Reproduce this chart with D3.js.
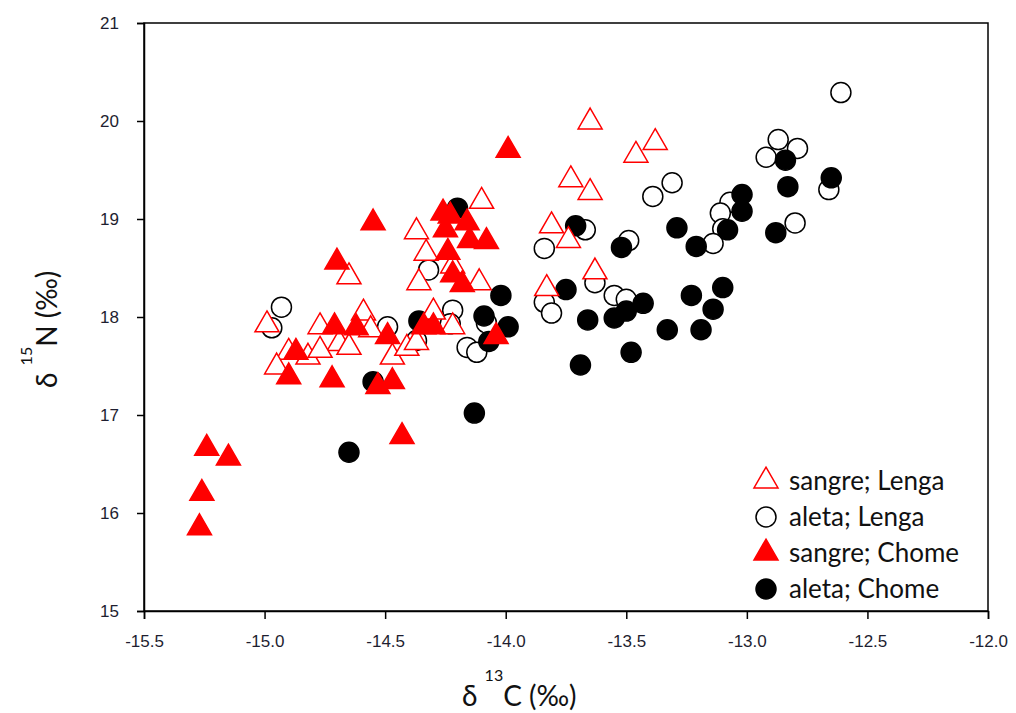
<!DOCTYPE html>
<html>
<head>
<meta charset="utf-8">
<script src="https://d3js.org/d3.v7.min.js"></script>
<style>
  body { margin: 0; background: #fff; }
  svg { display: block; }
  .tick text { font-family: "Liberation Sans", Arial, sans-serif; font-size: 17px; fill: #1e1e30; }
  .title { font-family: Lato, "Open Sans", sans-serif; font-size: 28px; fill: #111; }
  .legend text { font-family: Lato, "Open Sans", sans-serif; font-size: 26px; fill: #111; }
</style>
</head>
<body>
<svg id="chart" width="1016" height="713"></svg>
<script>
// δ13C / δ15N values (‰) per tissue and site
const sangreLenga = [
  [-13.65, 19.99], [-13.38, 19.78], [-13.46, 19.65], [-13.73, 19.40], [-13.65, 19.27],
  [-14.10, 19.18], [-13.81, 18.93], [-14.37, 18.87], [-13.74, 18.78], [-14.33, 18.65],
  [-13.63, 18.46], [-13.83, 18.29], [-14.65, 18.41], [-14.36, 18.35], [-14.22, 18.52],
  [-14.11, 18.35], [-14.59, 18.04], [-14.30, 18.05], [-14.99, 17.92], [-14.77, 17.90],
  [-14.56, 17.87], [-14.22, 17.90], [-14.69, 17.73], [-14.65, 17.69], [-14.90, 17.64],
  [-14.82, 17.59], [-14.77, 17.66], [-14.95, 17.49], [-14.47, 17.59], [-14.41, 17.68],
  [-14.37, 17.74]
];
const aletaLenga = [
  [-12.61, 20.29], [-12.87, 19.81], [-12.79, 19.72], [-12.92, 19.63], [-12.66, 19.30],
  [-13.31, 19.37], [-13.39, 19.23], [-13.07, 19.17], [-13.11, 19.06], [-13.10, 18.90],
  [-13.14, 18.75], [-12.80, 18.96], [-13.49, 18.78], [-13.67, 18.89], [-13.84, 18.70],
  [-13.63, 18.35], [-13.55, 18.22], [-13.50, 18.18], [-13.84, 18.15], [-13.81, 18.04],
  [-14.22, 18.07], [-14.08, 17.94], [-14.16, 17.69], [-14.12, 17.64], [-14.23, 17.93],
  [-14.32, 18.48], [-14.49, 17.90], [-14.93, 18.10], [-14.97, 17.89], [-14.37, 17.76]
];
const sangreChome = [
  [-13.99, 19.70], [-14.55, 18.96], [-14.70, 18.56], [-14.26, 19.06], [-14.23, 19.03],
  [-14.16, 18.96], [-14.25, 18.89], [-14.15, 18.78], [-14.08, 18.77], [-14.24, 18.66],
  [-14.22, 18.43], [-14.18, 18.33], [-14.71, 17.90], [-14.62, 17.89], [-14.49, 17.80],
  [-14.34, 17.90], [-14.30, 17.90], [-14.87, 17.64], [-14.90, 17.39], [-14.72, 17.36],
  [-14.53, 17.29], [-14.47, 17.34], [-14.04, 17.80], [-14.43, 16.78], [-15.24, 16.66],
  [-15.15, 16.56], [-15.26, 16.20], [-15.27, 15.85]
];
const aletaChome = [
  [-12.84, 19.60], [-12.83, 19.33], [-12.65, 19.42], [-13.02, 19.25], [-13.02, 19.08],
  [-13.08, 18.89], [-12.88, 18.86], [-13.29, 18.91], [-13.21, 18.72], [-13.52, 18.71],
  [-13.71, 18.93], [-14.20, 19.11], [-14.02, 18.22], [-14.09, 18.01], [-13.99, 17.90],
  [-14.07, 17.75], [-13.75, 18.28], [-13.66, 17.97], [-13.69, 17.51], [-13.55, 17.99],
  [-13.50, 18.06], [-13.43, 18.14], [-13.48, 17.64], [-13.33, 17.87], [-13.19, 17.87],
  [-13.23, 18.22], [-13.10, 18.30], [-13.14, 18.08], [-14.13, 17.02], [-14.65, 16.62],
  [-14.55, 17.34], [-14.36, 17.96]
];

const xTicks = [-15.5, -15.0, -14.5, -14.0, -13.5, -13.0, -12.5, -12.0];
const yTicks = [15, 16, 17, 18, 19, 20, 21];
const legendLabels = ["sangre; Lenga", "aleta; Lenga", "sangre; Chome", "aleta; Chome"];

const svg = d3.select("#chart");
const plotLeft = 144, plotRight = 988, plotTop = 23, plotBottom = 611;

const x = d3.scaleLinear().domain([-15.5, -12.0]).range([plotLeft, plotRight]);
const y = d3.scaleLinear().domain([15, 21]).range([plotBottom, plotTop]);

// frame
svg.append("rect")
  .attr("x", plotLeft).attr("y", plotTop)
  .attr("width", plotRight - plotLeft).attr("height", plotBottom - plotTop)
  .attr("fill", "none").attr("stroke", "#000").attr("stroke-width", 1.5);

// axes (plain hyphen for negative labels)
const fmtX = d => d3.format(".1f")(d).replace("\u2212", "-");
const xAxis = svg.append("g")
  .attr("transform", `translate(0,${plotBottom})`)
  .call(d3.axisBottom(x).tickValues(xTicks).tickFormat(fmtX).tickSize(8).tickPadding(16));
const yAxis = svg.append("g")
  .attr("transform", `translate(${plotLeft},0)`)
  .call(d3.axisLeft(y).tickValues(yTicks).tickFormat(d3.format("d")).tickSize(7).tickPadding(18));
[xAxis, yAxis].forEach(g => {
  g.select(".domain").attr("stroke-width", 1.5);
  g.selectAll(".tick line").attr("stroke-width", 1.5);
});

// markers
const triPath = d3.symbol().type(d3.symbolTriangle).size(250)();
const RED = "#ff0000";

function circles(data, fill) {
  svg.append("g").selectAll("circle").data(data).join("circle")
    .attr("cx", d => x(d[0])).attr("cy", d => y(d[1])).attr("r", 10)
    .attr("fill", fill).attr("stroke", "#000").attr("stroke-width", 1.5);
}
function triangles(data, fill) {
  svg.append("g").selectAll("path").data(data).join("path")
    .attr("d", triPath)
    .attr("transform", d => `translate(${x(d[0])},${y(d[1])})`)
    .attr("fill", fill).attr("stroke", RED).attr("stroke-width", 1.5);
}
circles(aletaLenga, "#fff");
circles(aletaChome, "#000");
triangles(sangreLenga, "#fff");
triangles(sangreChome, RED);

// axis titles
const xt = svg.append("text").attr("class", "title")
  .attr("x", 462).attr("y", 706);
xt.append("tspan").text("δ ");
xt.append("tspan").attr("dy", -25).attr("font-size", 16).text("13");
xt.append("tspan").attr("dy", 25).text("C (‰)");

const yt = svg.append("text").attr("class", "title")
  .attr("transform", "translate(57,388) rotate(-90)");
yt.append("tspan").text("δ ");
yt.append("tspan").attr("dy", -25).attr("font-size", 16).text("15");
yt.append("tspan").attr("dy", 25).text("N (‰)");

// legend
const lg = svg.append("g").attr("class", "legend");
const legendY = [481, 517, 553, 589];
const legendStyle = [
  { sym: "tri", fill: "#fff" },
  { sym: "circle", fill: "#fff" },
  { sym: "tri", fill: RED },
  { sym: "circle", fill: "#000" }
];
legendLabels.forEach((lab, i) => {
  const s = legendStyle[i];
  if (s.sym === "tri") {
    lg.append("path").attr("d", triPath)
      .attr("transform", `translate(766,${legendY[i]})`)
      .attr("fill", s.fill).attr("stroke", RED).attr("stroke-width", 1.5);
  } else {
    lg.append("circle").attr("cx", 766).attr("cy", legendY[i]).attr("r", 10)
      .attr("fill", s.fill).attr("stroke", "#000").attr("stroke-width", 1.5);
  }
  lg.append("text").attr("x", 789).attr("y", legendY[i] + 9).text(lab);
});
</script>
</body>
</html>
